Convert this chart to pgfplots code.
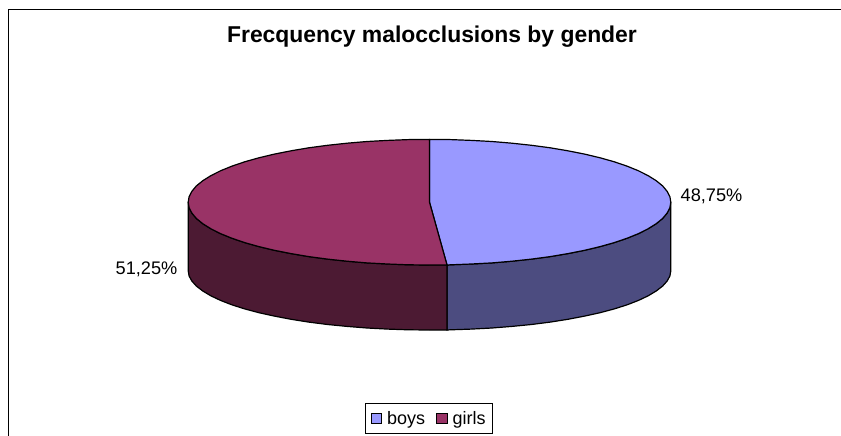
\documentclass[border=0pt]{standalone}
\usepackage{fontspec}
\setmainfont{Liberation Sans}
\usepackage{pgfplots}
\pgfplotsset{compat=1.18}
\definecolor{boystop}{HTML}{9999FF}
\definecolor{girlstop}{HTML}{993366}
\definecolor{boysside}{HTML}{4C4C80}
\definecolor{girlsside}{HTML}{4C1A33}
\begin{document}
\begin{tikzpicture}
\useasboundingbox (0,0) rectangle (841pt,436pt);
\begin{axis}[
  at={(0,0)}, anchor=south west,
  width=841pt, height=436pt, scale only axis,
  xmin=0, xmax=841, ymin=0, ymax=436, y dir=reverse,
  axis lines=none, clip=false,
  legend columns=2,
  legend image code/.code={\draw[#1,line width=1pt] (0pt,-5pt) rectangle (10.5pt,5pt);},
  legend style={at={(axis cs:365,402.7)}, anchor=north west, draw=black, line width=1.1pt,
    font=\fontsize{18}{20}\selectfont, inner xsep=5pt, inner ysep=6pt,
    /tikz/every odd column/.append style={column sep=3pt},
    /tikz/every even column/.append style={column sep=9pt}},
]
% frame
\addplot[forget plot, black, line width=1.5pt] coordinates {(8.5,436) (8.5,9.5) (841,9.5)};
% side boys
\addplot[forget plot, draw=black, fill=boysside, line width=1.2pt] coordinates {
(670.8,202.2)(670.8,270.8)(669.9,276.0)(667.1,281.1)(662.6,286.1)(656.2,291.0)(648.2,295.8)(638.5,300.4)(627.2,304.8)(614.3,308.9)(600.1,312.7)(584.6,316.1)(567.9,319.3)(550.2,322.1)(531.5,324.5)(512.0,326.4)(492.0,328.0)(471.4,329.1)(450.5,329.8)(447,330)
(447,265)(450.5,264.8)(471.4,264.0)(492.0,262.9)(512.0,261.2)(531.5,259.1)(550.2,256.6)(567.9,253.6)(584.6,250.3)(600.1,246.6)(614.3,242.6)(627.2,238.2)(638.5,233.6)(648.2,228.7)(656.2,223.7)(662.6,218.5)(667.1,213.1)(669.9,207.7)(670.8,202.2)};
% side girls
\addplot[forget plot, draw=black, fill=girlsside, line width=1.2pt] coordinates {
(188.2,202.2)(188.2,270.8)(189.1,276.0)(191.9,281.1)(196.4,286.1)(202.8,291.0)(210.8,295.8)(220.5,300.4)(231.8,304.8)(244.7,308.9)(258.9,312.7)(274.4,316.1)(291.1,319.3)(308.8,322.1)(327.5,324.5)(347.0,326.4)(367.0,328.0)(387.6,329.1)(408.5,329.8)(429.5,330)(447,330)
(447,265)(429.5,265)(408.5,264.8)(387.6,264.0)(367.0,262.9)(347.0,261.2)(327.5,259.1)(308.8,256.6)(291.1,253.6)(274.4,250.3)(258.9,246.6)(244.7,242.6)(231.8,238.2)(220.5,233.6)(210.8,228.7)(202.8,223.7)(196.4,218.5)(191.9,213.1)(189.1,207.7)(188.2,202.2)};
% top boys
\addplot[draw=black, fill=boystop, line width=1.2pt] coordinates {
(429.5,202.2)(429.5,139.4)(450.5,139.6)(471.4,140.4)(492.0,141.5)(512.0,143.2)(531.5,145.3)(550.2,147.8)(567.9,150.8)(584.6,154.1)(600.1,157.8)(614.3,161.8)(627.2,166.2)(638.5,170.8)(648.2,175.7)(656.2,180.7)(662.6,185.9)(667.1,191.3)(669.9,196.7)(670.8,202.2)
(669.9,207.7)(667.1,213.1)(662.6,218.5)(656.2,223.7)(648.2,228.7)(638.5,233.6)(627.2,238.2)(614.3,242.6)(600.1,246.6)(584.6,250.3)(567.9,253.6)(550.2,256.6)(531.5,259.1)(512.0,261.2)(492.0,262.9)(471.4,264.0)(450.5,264.8)(447,265)(429.5,202.2)};
\addlegendentry{boys}
% top girls
\addplot[draw=black, fill=girlstop, line width=1.2pt] coordinates {
(429.5,202.2)(429.5,139.4)(408.5,139.6)(387.6,140.4)(367.0,141.5)(347.0,143.2)(327.5,145.3)(308.8,147.8)(291.1,150.8)(274.4,154.1)(258.9,157.8)(244.7,161.8)(231.8,166.2)(220.5,170.8)(210.8,175.7)(202.8,180.7)(196.4,185.9)(191.9,191.3)(189.1,196.7)(188.2,202.2)
(189.1,207.7)(191.9,213.1)(196.4,218.5)(202.8,223.7)(210.8,228.7)(220.5,233.6)(231.8,238.2)(244.7,242.6)(258.9,246.6)(274.4,250.3)(291.1,253.6)(308.8,256.6)(327.5,259.1)(347.0,261.2)(367.0,262.9)(387.6,264.0)(408.5,264.8)(429.5,265)(447,265)(429.5,202.2)};
\addlegendentry{girls}
\node[font=\fontsize{22.9}{26}\selectfont\bfseries] at (axis cs:432,36.5) {Frecquency malocclusions by gender};
\node[font=\fontsize{18.2}{20}\selectfont] at (axis cs:711.5,196) {48,75\%};
\node[font=\fontsize{18.2}{20}\selectfont] at (axis cs:146.5,269) {51,25\%};
\end{axis}
\end{tikzpicture}
\end{document}
